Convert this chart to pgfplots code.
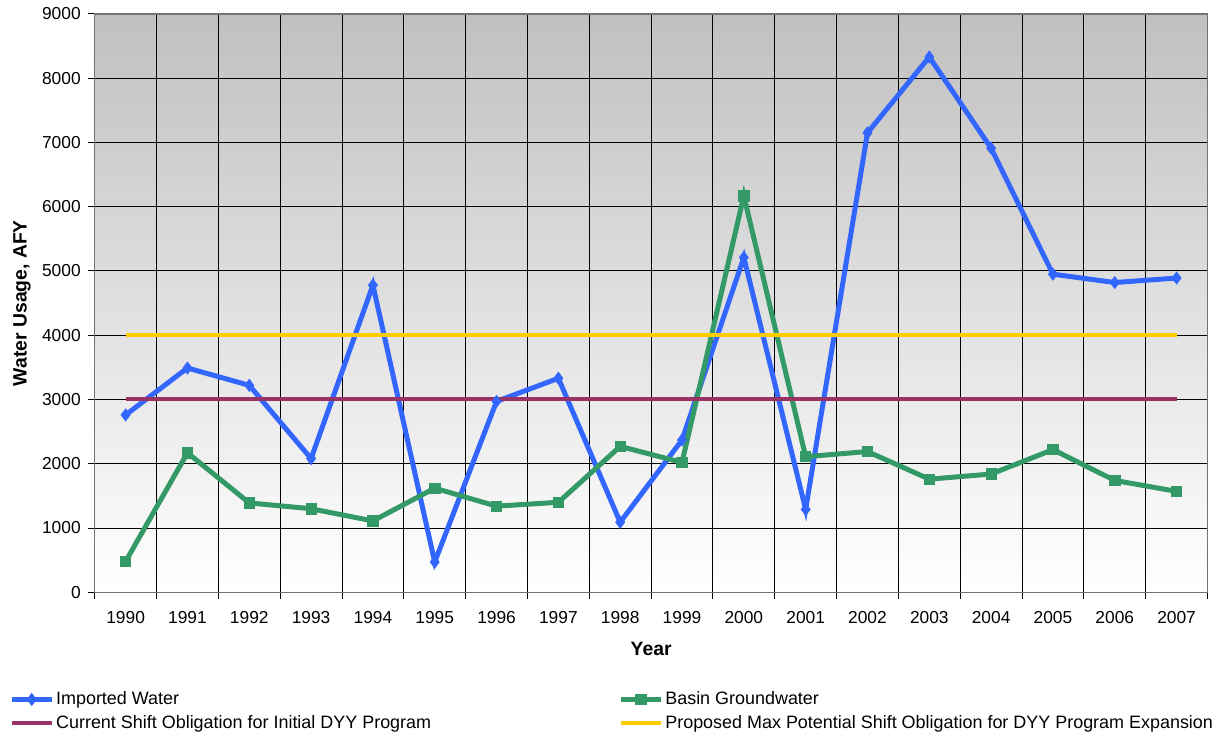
\documentclass[border=0pt]{standalone}
\usepackage{fontspec}
\setmainfont{Liberation Sans}
\usepackage{pgfplots}
\pgfplotsset{compat=1.18}
\definecolor{impblue}{HTML}{3366FF}
\definecolor{gwgreen}{HTML}{339966}
\definecolor{oblred}{HTML}{993366}
\definecolor{propyellow}{HTML}{FFCC00}
\definecolor{bgtop}{HTML}{C0C0C0}
\newcommand\ft{\fontsize{8.7}{10.4}\selectfont}
\newcommand\fl{\fontsize{9}{10.8}\selectfont}
\newcommand\fb{\fontsize{9.7}{11.6}\selectfont\bfseries}
\begin{document}
\begin{tikzpicture}
\begin{axis}[
  width=558pt, height=290pt, scale only axis,
  xmin=-0.5, xmax=17.5, ymin=0, ymax=9000,
  xtick={0,...,17},
  xticklabels={1990,1991,1992,1993,1994,1995,1996,1997,1998,1999,2000,2001,2002,2003,2004,2005,2006,2007},
  major x tick style={draw=none},
  minor xtick={-0.5,0.5,...,17.5},
  ytick={0,1000,...,9000},
  xminorgrids, ymajorgrids,
  grid style={black, line width=0.5pt},
  minor grid style={black, line width=0.5pt},
  tick align=outside, tick pos=left,
  major tick length=3.5pt, minor tick length=3.5pt,
  tick style={black, line width=0.5pt},
  axis line style={black!55, line width=0.7pt},
  axis background/.style={top color=bgtop, bottom color=white},
  /pgf/number format/assume math mode=true,
  /pgf/number format/1000 sep={},
  tick label style={font=\ft},
  xticklabel style={yshift=-2.5pt},
  xlabel={Year}, ylabel={Water Usage, AFY},
  label style={font=\fb},
  xlabel style={at={(axis description cs:0.5,-0.0983)}, anchor=center},
  ylabel style={at={(axis description cs:-0.0654,0.5)}, anchor=center},
  legend columns=2,
  legend cell align=left,
  legend style={at={(axis description cs:-0.0824,-0.157)}, anchor=north west,
    draw=none, fill=none, font=\fl, nodes={inner xsep=1pt},
    /tikz/every even column/.append style={column sep=93pt}},
  legend image code/.code={\draw[mark repeat=2,mark phase=2] plot coordinates {(0cm,0cm) (0.35cm,0cm) (0.7cm,0cm)};},
]
\addplot[color=impblue, line width=2.5pt, mark=diamond*, mark size=3pt, mark options={solid, line width=0.4pt}] coordinates {
(0,2760) (1,3490) (2,3220) (3,2080) (4,4780) (5,470) (6,2970) (7,3330) (8,1090)
(9,2370) (10,5210) (11,1290) (12,7150) (13,8330) (14,6910) (15,4950) (16,4820) (17,4890)};
\addlegendentry{Imported Water}
\addplot[color=gwgreen, line width=2.5pt, mark=square*, mark size=2.6pt, mark options={solid, line width=0.4pt}] coordinates {
(0,480) (1,2170) (2,1390) (3,1300) (4,1110) (5,1620) (6,1340) (7,1400) (8,2270)
(9,2020) (10,6170) (11,2110) (12,2190) (13,1760) (14,1840) (15,2220) (16,1740) (17,1570)};
\addlegendentry{Basin Groundwater}
\addplot[color=oblred, line width=2pt] coordinates {
(0,3000) (1,3000) (2,3000) (3,3000) (4,3000) (5,3000) (6,3000) (7,3000) (8,3000)
(9,3000) (10,3000) (11,3000) (12,3000) (13,3000) (14,3000) (15,3000) (16,3000) (17,3000)};
\addlegendentry{Current Shift Obligation for Initial DYY Program}
\addplot[color=propyellow, line width=2pt] coordinates {
(0,4000) (1,4000) (2,4000) (3,4000) (4,4000) (5,4000) (6,4000) (7,4000) (8,4000)
(9,4000) (10,4000) (11,4000) (12,4000) (13,4000) (14,4000) (15,4000) (16,4000) (17,4000)};
\addlegendentry{Proposed Max Potential Shift Obligation for DYY Program Expansion}
\end{axis}
\path ([xshift=-47.5pt,yshift=-70.5pt]current axis.south west) rectangle ([xshift=5pt,yshift=7pt]current axis.north east);
\end{tikzpicture}
\end{document}
